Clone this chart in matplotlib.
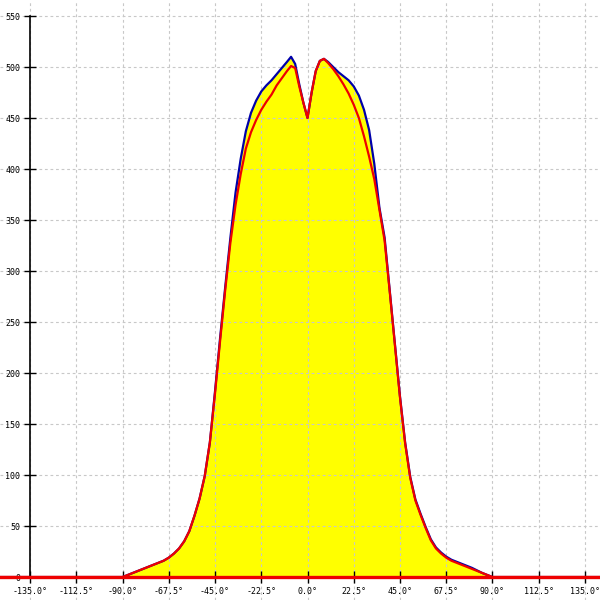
import matplotlib
matplotlib.use("Agg")
import matplotlib.pyplot as plt
import numpy as np

angles = [-150, -90, -85, -80, -75, -70, -67.5, -65, -62.5, -60, -57.5, -55, -52.5, -50,
          -47.5, -45, -42.5, -40, -37.5, -35, -32.5, -30, -27.5, -25, -22.5, -20,
          -17.5, -15, -12.5, -10, -8, -6, -4, -2, 0, 2, 4, 6, 8, 10, 12.5, 15, 17.5,
          20, 22.5, 25, 27.5, 30, 32.5, 35, 37.5, 40, 42.5, 45, 47.5, 50, 52.5, 55,
          57.5, 60, 62.5, 65, 67.5, 70, 75, 80, 85, 90, 145]

blue_vals = [0, 0, 4, 8, 12, 16, 19, 23, 28, 35, 45, 60, 77, 99,
             132, 182, 235, 285, 333, 377, 410, 437, 455, 467, 476, 482,
             487, 493, 499, 505, 510, 503, 483, 465, 450, 475, 496, 506, 508, 505, 500, 495, 491,
             487, 481, 472, 458, 438, 405, 362, 333, 281, 229, 177, 132, 98, 76, 62,
             49, 37, 29, 24, 20, 17, 13, 9, 4, 0, 0]

red_vals = [0, 0, 4, 8, 12, 16, 19, 23, 28, 35, 45, 60, 77, 99,
            132, 180, 232, 282, 328, 365, 395, 420, 436, 448, 458, 466,
            473, 482, 489, 496, 501, 499, 481, 465, 450, 475, 496, 506, 508, 504, 498, 491, 483,
            474, 463, 450, 432, 412, 390, 360, 330, 280, 228, 176, 131, 97, 75, 61,
            48, 36, 28, 23, 19, 16, 12, 8, 4, 0, 0]

xticks = [-135, -112.5, -90, -67.5, -45, -22.5, 0, 22.5, 45, 67.5, 90, 112.5, 135]
yticks = list(range(0, 551, 50))

fig = plt.figure(figsize=(6, 6), dpi=100)
ax = fig.add_axes([0, 0, 1, 1])
ax.set_xlim(-149.6, 142.3)
ax.set_ylim(-22.5, 565.7)

ax.fill_between(angles, blue_vals, 0, color="#ffff00", zorder=1, linewidth=0)
ax.plot(angles, blue_vals, color="#0000aa", linewidth=1.6, zorder=3)
ax.plot(angles, red_vals, color="#ee0000", linewidth=1.6, zorder=3.1)
ax.plot([-150, 145], [0, 0], color="#ee0000", linewidth=2.4, zorder=3.2)

for s in ["top", "right"]:
    ax.spines[s].set_visible(False)
ax.spines["left"].set_position(("data", -135))
ax.spines["bottom"].set_position(("data", 0))
ax.spines["left"].set_bounds(0, 550)
ax.spines["bottom"].set_bounds(-135, 135)
for s in ["left", "bottom"]:
    ax.spines[s].set_linewidth(1.2)
    ax.spines[s].set_color("black")

ax.set_xticks(xticks)
ax.set_xticklabels([f"{v:.1f}°" for v in xticks], family="DejaVu Sans Mono", fontsize=6)
ax.set_yticks(yticks)
ax.set_yticklabels([str(v) for v in yticks], family="DejaVu Sans Mono", fontsize=6)
ax.tick_params(direction="inout", length=8, width=1, pad=3)

ax.set_axisbelow("line")
ax.grid(True, color="#c8c8c8", linestyle=(0, (2.5, 2.5)), linewidth=0.8)

fig.savefig("out.png", dpi=100)
